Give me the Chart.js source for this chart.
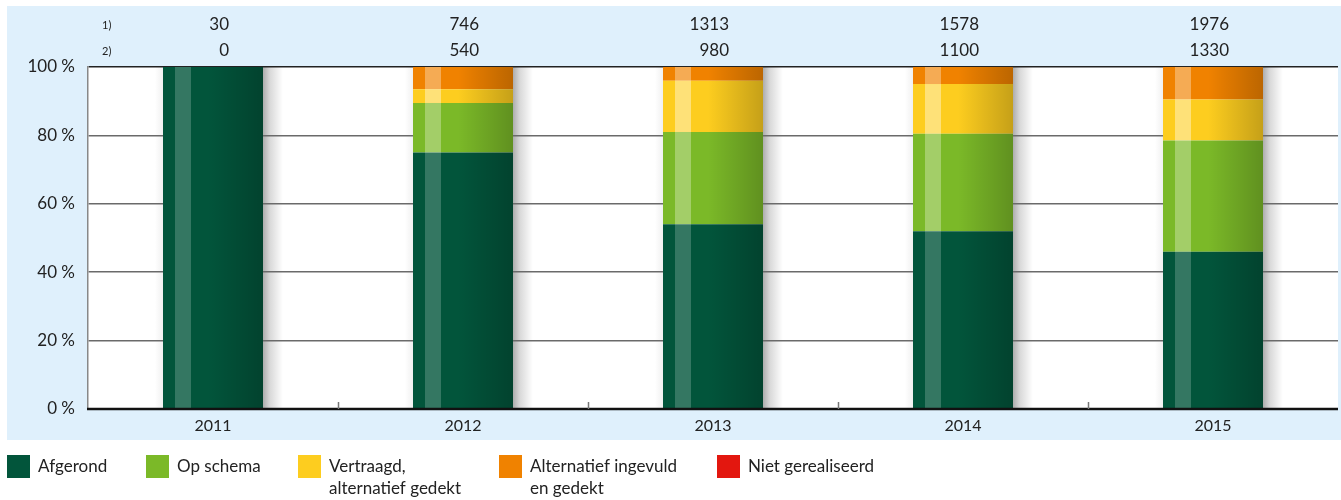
<!DOCTYPE html>
<html><head><meta charset="utf-8">
<script src="https://cdn.jsdelivr.net/npm/chart.js@4.4.0/dist/chart.umd.min.js"></script>
<style>html,body{margin:0;padding:0;background:#fff;}#wrap{width:1341px;height:500px;position:relative}</style>
</head><body><div id="wrap"><canvas id="c" width="1341" height="500"></canvas></div>
<script>
const categories = ['2011','2012','2013','2014','2015'];
const row1 = [30, 746, 1313, 1578, 1976];
const row2 = [0, 540, 980, 1100, 1330];
const rowLabels = ['1)', '2)'];
const afgerond = [100, 75, 54, 52, 46];
const opSchema = [0, 14.5, 27, 28.5, 32.5];
const vertraagd = [0, 4, 15, 14.5, 12];
const alternatief = [0, 6.5, 4, 5, 9.5];
const nietGerealiseerd = [0, 0, 0, 0, 0];
const seriesNames = ['Afgerond', 'Op schema', ['Vertraagd,', 'alternatief gedekt'], ['Alternatief ingevuld', 'en gedekt'], 'Niet gerealiseerd'];
const seriesColors = ['#02553b', '#7bb928', '#fdcd1f', '#f08200', '#e3170f'];
const highlightAlpha = [0.2, 0.3, 0.4, 0.33, 0.3];
const FONT = 'Lato, "Noto Sans", sans-serif';
const TXT = '#222';

const seriesData = [afgerond, opSchema, vertraagd, alternatief, nietGerealiseerd];

const bgPlugin = {
  id: 'bg',
  beforeDraw(chart) {
    const {ctx, chartArea: a} = chart;
    ctx.save();
    ctx.fillStyle = '#dff0fc';
    ctx.fillRect(7, 6, chart.width - 7, 434);
    ctx.fillStyle = '#fff';
    ctx.fillRect(a.left, a.top, a.right - a.left, a.bottom - a.top);
    const metas = chart.getSortedVisibleDatasetMetas();
    categories.forEach((c, i) => {
      let top = Infinity, bottom = -Infinity, right = 0, left = 0;
      metas.forEach(m => {
        const el = m.data[i];
        if (!el) return;
        const t = Math.min(el.y, el.base), b = Math.max(el.y, el.base);
        if (b - t < 0.5) return;
        top = Math.min(top, t); bottom = Math.max(bottom, b);
        right = el.x + el.width / 2; left = el.x - el.width / 2;
      });
      if (top === Infinity) return;
      const g = ctx.createLinearGradient(right, 0, right + 20, 0);
      g.addColorStop(0, 'rgba(0,0,0,0.32)');
      g.addColorStop(0.35, 'rgba(0,0,0,0.15)');
      g.addColorStop(1, 'rgba(0,0,0,0)');
      ctx.fillStyle = g;
      ctx.fillRect(right, top, 20, bottom - top);
      const g2 = ctx.createLinearGradient(left, 0, left - 8, 0);
      g2.addColorStop(0, 'rgba(0,0,0,0.06)');
      g2.addColorStop(1, 'rgba(0,0,0,0)');
      ctx.fillStyle = g2;
      ctx.fillRect(left - 8, top, 8, bottom - top);
    });
    ctx.restore();
  },
  afterDatasetsDraw(chart) {
    const {ctx, chartArea: a, scales: {x}} = chart;
    const metas = chart.getSortedVisibleDatasetMetas();
    ctx.save();
    metas.forEach(m => {
      m.data.forEach(el => {
        const t = Math.min(el.y, el.base), b = Math.max(el.y, el.base);
        if (b - t < 0.5) return;
        const l = el.x - el.width / 2, w = el.width;
        const g = ctx.createLinearGradient(l, 0, l + w, 0);
        g.addColorStop(0, 'rgba(0,0,0,0)');
        g.addColorStop(0.45, 'rgba(0,0,0,0)');
        g.addColorStop(1, 'rgba(0,0,0,0.22)');
        ctx.fillStyle = g;
        ctx.fillRect(l, t, w, b - t);
        ctx.fillStyle = 'rgba(255,255,255,' + highlightAlpha[m.index] + ')';
        ctx.fillRect(l + 12, t, 16, b - t);
      });
    });
    ctx.strokeStyle = '#111';
    ctx.lineWidth = 2.5;
    ctx.beginPath();
    ctx.moveTo(a.left - 1, a.bottom);
    ctx.lineTo(a.right, a.bottom);
    ctx.stroke();
    ctx.strokeStyle = '#777';
    ctx.lineWidth = 1.5;
    for (let i = 1; i < categories.length; i++) {
      const px = Math.round(x.getPixelForValue(i - 0.5)) + 0.5;
      ctx.beginPath();
      ctx.moveTo(px, a.bottom);
      ctx.lineTo(px, a.bottom - 7);
      ctx.stroke();
    }
    ctx.restore();
  },
  afterDraw(chart) {
    const {ctx, scales: {x}} = chart;
    ctx.save();
    ctx.fillStyle = TXT;
    ctx.textBaseline = 'middle';
    ctx.font = '11px ' + FONT;
    ctx.textAlign = 'left';
    ctx.fillText(rowLabels[0], 102, 25);
    ctx.fillText(rowLabels[1], 102, 51);
    ctx.font = '17px ' + FONT;
    ctx.textAlign = 'right';
    categories.forEach((c, i) => {
      const px = x.getPixelForValue(i) + 16;
      ctx.fillText(String(row1[i]), px, 25);
      ctx.fillText(String(row2[i]), px, 51);
    });
    const lx = [7, 146, 298, 499, 717];
    ctx.textAlign = 'left';
    ctx.font = '17px ' + FONT;
    seriesNames.forEach((n, i) => {
      ctx.fillStyle = seriesColors[i];
      ctx.fillRect(lx[i], 455, 23, 23);
      ctx.fillStyle = TXT;
      const lines = Array.isArray(n) ? n : [n];
      lines.forEach((ln, j) => ctx.fillText(ln, lx[i] + 31, 467 + j * 22));
    });
    ctx.restore();
  }
};

new Chart(document.getElementById('c'), {
  type: 'bar',
  data: {
    labels: categories,
    datasets: seriesData.map((d, i) => ({
      label: Array.isArray(seriesNames[i]) ? seriesNames[i].join(' ') : seriesNames[i],
      data: d,
      backgroundColor: seriesColors[i],
      borderWidth: 0,
      barPercentage: 0.4,
      categoryPercentage: 1.0
    }))
  },
  options: {
    responsive: false,
    animation: false,
    devicePixelRatio: 1,
    layout: {padding: {left: 0, right: 3, top: 67, bottom: 0}},
    plugins: {legend: {display: false}, tooltip: {enabled: false}},
    scales: {
      x: {
        stacked: true,
        grid: {display: false, drawTicks: false},
        border: {display: false},
        ticks: {font: {family: FONT, size: 16}, color: TXT, padding: 7},
        afterFit(s) { s.height = 91; }
      },
      y: {
        stacked: true,
        min: 0, max: 100,
        ticks: {stepSize: 20, font: {family: FONT, size: 17}, color: TXT, padding: 13,
          callback: v => v + ' %'},
        grid: {drawTicks: false,
          color: c => c.tick.value === 100 ? '#222' : (c.tick.value === 0 ? 'rgba(0,0,0,0)' : '#6a6a6a'),
          lineWidth: 1.5},
        border: {display: true, color: '#888', width: 1.5},
        afterFit(s) { s.width = 88; }
      }
    }
  },
  plugins: [bgPlugin]
});
</script></body></html>
